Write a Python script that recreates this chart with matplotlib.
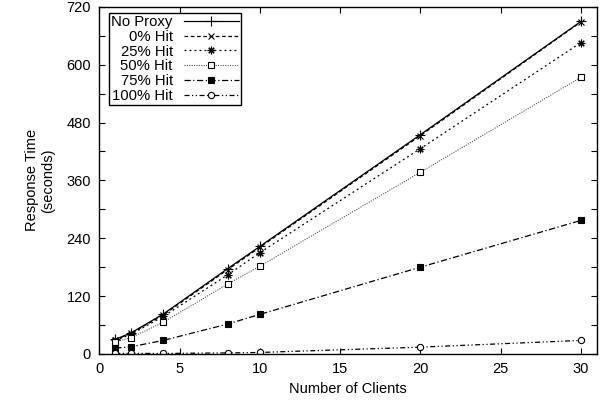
import matplotlib
matplotlib.use("Agg")
import matplotlib.pyplot as plt
import numpy as np

plt.rcParams['font.family'] = ['Liberation Sans', 'DejaVu Sans']

clients = [1, 2, 4, 8, 10, 20, 30]
no_proxy = [30, 44, 83, 177, 223, 455, 690]
hit_0 = [29, 43, 81, 175, 221, 453, 689]
hit_25 = [28, 41, 78, 164, 210, 426, 646]
hit_50 = [25, 34, 66, 145, 182, 377, 574]
hit_75 = [12, 15, 28, 62, 82, 180, 277]
hit_100 = [1, 1, 1, 2, 3, 14, 28]

labels = ['No Proxy', '0% Hit', '25% Hit', '50% Hit', '75% Hit', '100% Hit']
series = [no_proxy, hit_0, hit_25, hit_50, hit_75, hit_100]
styles = [
    dict(ls='-', marker='+', ms=7, mfc='black'),
    dict(ls=(0, (3, 2)), marker='x', ms=4.5, mfc='black'),
    dict(ls=(0, (1.5, 2.5)), marker=(8, 2, 0), ms=5.5, mfc='black'),
    dict(ls=(0, (1, 1.3)), marker='s', ms=4.5, mfc='white', lw=0.75, color='0.25'),
    dict(ls=(0, (5, 2, 1, 2)), marker='s', ms=5, mfc='black'),
    dict(ls=(0, (4, 2, 1, 2, 1, 2)), marker='o', ms=4.5, mfc='white'),
]

fig = plt.figure(figsize=(6.05, 4.04), dpi=100)
ax = fig.add_axes([0.164, 0.124, 0.823, 0.859])

for vals, lab, st in zip(series, labels, styles):
    st = dict(st)
    lw = st.pop('lw', 0.9)
    col = st.pop('color', 'black')
    ax.plot(clients, vals, color=col, lw=lw, mec='black', mew=0.8, label=lab, **st)

ax.set_xlim(0, 31)
ax.set_ylim(0, 720)
ax.set_xticks(range(0, 31, 5))
yt = list(range(0, 721, 60))
ax.set_yticks(yt)
ax.set_yticklabels([str(v) if v % 120 == 0 else '' for v in yt])
ax.tick_params(direction='in', top=True, right=True, length=4, width=0.8,
               labelsize=10.5, pad=6)
for s in ax.spines.values():
    s.set_linewidth(1.0)

ax.set_xlabel('Number of Clients', fontsize=10.5)
ax.set_ylabel('Response Time\n(seconds)', fontsize=10.5, labelpad=8)

leg = ax.legend(loc='upper left', markerfirst=False, fancybox=False,
                edgecolor='black', framealpha=1, fontsize=10.7,
                handlelength=3.7, labelspacing=0.05, borderpad=0.15,
                handletextpad=0.75, borderaxespad=0.4,
                bbox_to_anchor=(0.008, 1.0))
leg.get_frame().set_linewidth(1.0)

fig.savefig('out.png', dpi=100)
